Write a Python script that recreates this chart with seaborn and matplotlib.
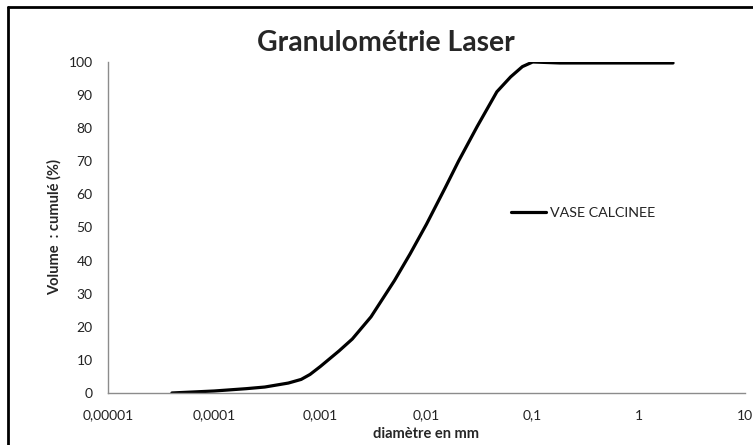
import matplotlib
matplotlib.use("Agg")
import matplotlib.pyplot as plt
import pandas as pd
import numpy as np
import seaborn as sns

# cumulative volume curve
diametre = [4e-5, 1e-4, 2e-4, 3e-4, 5e-4, 6.6e-4, 8e-4, 1e-3, 1.5e-3, 2e-3, 3e-3,
            5e-3, 7e-3, 0.01, 0.015, 0.02, 0.03, 0.046, 0.062, 0.08, 0.1, 0.18, 0.5, 2.1]
volume = [0, 0.6, 1.3, 1.8, 3.0, 4.1, 5.6, 8, 12.7, 16.3, 23,
          34, 42, 51, 62, 70, 80.5, 91, 95.5, 98.6, 100, 99.7, 99.7, 99.7]
serie = "VASE CALCINEE"

x_ticks = [1e-5, 1e-4, 1e-3, 1e-2, 1e-1, 1, 10]
x_labels = ["0,00001", "0,0001", "0,001", "0,01", "0,1", "1", "10"]
y_ticks = list(range(0, 101, 10))

df = pd.DataFrame({"diametre": diametre, "volume": volume, "serie": serie})

sns.set_style("white")
plt.rcParams['font.family'] = ['Lato', 'DejaVu Sans']

fig = plt.figure(figsize=(7.53, 4.45), dpi=100)
ax = fig.add_axes([0.1434, 0.1169, 0.846, 0.7438])

sns.lineplot(data=df, x="diametre", y="volume", hue="serie", palette=["black"],
             linewidth=2.3, ax=ax)
for ln in ax.lines:
    ln.set_solid_joinstyle("round")
    ln.set_solid_capstyle("round")
ax.set_xscale("log")
ax.set_xlim(1e-5, 10)
ax.set_ylim(0, 100)
ax.set_xticks(x_ticks)
ax.set_xticklabels(x_labels)
ax.minorticks_off()
ax.set_yticks(y_ticks)
ax.tick_params(axis="both", length=0, labelsize=10, colors="#222222")
ax.tick_params(axis="x", pad=12)
ax.tick_params(axis="y", pad=11)

for s in ["top", "right"]:
    ax.spines[s].set_visible(False)
for s in ["left", "bottom"]:
    ax.spines[s].set_color("#8c8c8c")
    ax.spines[s].set_linewidth(1)

ax.set_xlabel("diamètre en mm", fontsize=10.5, fontweight="bold", labelpad=4)
ax.set_ylabel("Volume  : cumulé (%)", fontsize=10.5, fontweight="bold", labelpad=5)
fig.text(0.512, 0.885, "Granulométrie Laser", ha="center", va="baseline",
         fontsize=20.4, fontweight="bold")

leg = ax.legend(loc="center left", bbox_to_anchor=(0.612, 0.544), frameon=False,
                fontsize=10.3, handlelength=2.5, handletextpad=0.25)
for t in leg.get_texts():
    t.set_color("#222222")

# figure border (left and top visible)
fig.add_artist(plt.Line2D([0.0106, 0.0106], [0, 0.984], color="black", lw=2,
                          transform=fig.transFigure))
fig.add_artist(plt.Line2D([0.0106, 1], [0.984, 0.984], color="black", lw=2,
                          transform=fig.transFigure))

fig.savefig("out.png", dpi=100)
